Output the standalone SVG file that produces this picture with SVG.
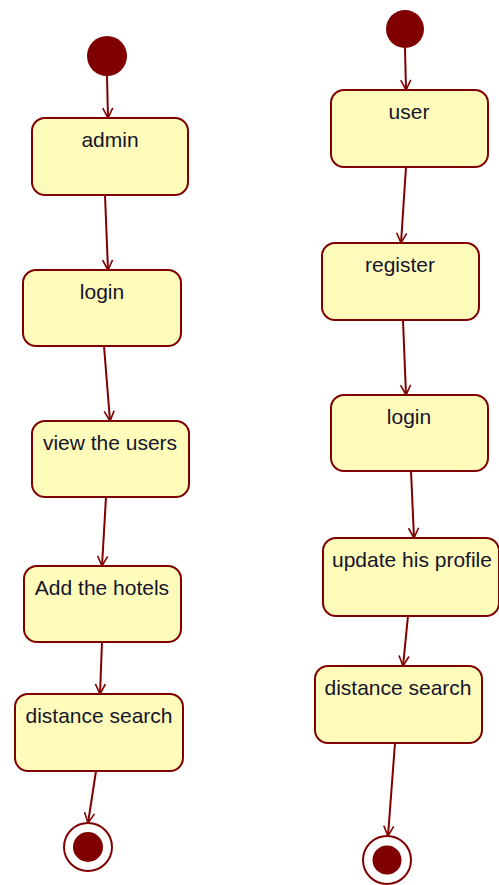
<svg xmlns="http://www.w3.org/2000/svg" width="499" height="885" viewBox="0 0 499 885">
  <style>
    .state rect { fill: #FFFCBB; stroke: #800000; stroke-width: 2; }
    .state text { font-family: "Liberation Sans", Arial, sans-serif; font-size: 21px; fill: #14142a; text-anchor: middle; }
    .start { fill: #800000; }
    .end-outer { fill: #ffffff; stroke: #800000; stroke-width: 2; }
    .end-inner { fill: #800000; }
    .edges path { fill: none; stroke: #800000; stroke-width: 2; marker-end: url(#open); }
  </style>
  <defs>
    <marker id="open" viewBox="0 0 12 12" refX="11" refY="6" markerWidth="12" markerHeight="12" markerUnits="userSpaceOnUse" orient="auto">
      <path d="M1,1 L11,6 L1,11" fill="none" stroke="#800000" stroke-width="1.6"/>
    </marker>
  </defs>

  <rect width="499" height="885" fill="#ffffff"/>

  <!-- admin flow -->
  <g id="admin-start"><circle class="start" cx="107" cy="56" r="20"/></g>
  <g id="admin" class="state"><rect x="32" y="118" width="156" height="77" rx="13"/><text x="110" y="147">admin</text></g>
  <g id="admin-login" class="state"><rect x="23" y="270" width="158" height="76" rx="13"/><text x="102" y="299">login</text></g>
  <g id="view-users" class="state"><rect x="32" y="421" width="157" height="76" rx="13"/><text x="110" y="450">view the users</text></g>
  <g id="add-hotels" class="state"><rect x="24" y="566" width="157" height="76" rx="13"/><text x="102" y="595">Add the hotels</text></g>
  <g id="admin-distance" class="state"><rect x="15" y="694" width="168" height="77" rx="13"/><text x="99" y="723">distance search</text></g>
  <g id="admin-end"><circle class="end-outer" cx="88" cy="847" r="24"/><circle class="end-inner" cx="88" cy="847" r="15"/></g>

  <!-- user flow -->
  <g id="user-start"><circle class="start" cx="405" cy="29" r="19"/></g>
  <g id="user" class="state"><rect x="331" y="90" width="157" height="77" rx="13"/><text x="409" y="119">user</text></g>
  <g id="register" class="state"><rect x="322" y="243" width="157" height="77" rx="13"/><text x="400" y="272">register</text></g>
  <g id="user-login" class="state"><rect x="331" y="395" width="157" height="76" rx="13"/><text x="409" y="424">login</text></g>
  <g id="update-profile" class="state"><rect x="323" y="538" width="176" height="78" rx="13"/><text x="412" y="567">update his profile</text></g>
  <g id="user-distance" class="state"><rect x="315" y="666" width="167" height="77" rx="13"/><text x="398" y="695">distance search</text></g>
  <g id="user-end"><circle class="end-outer" cx="387" cy="860" r="24"/><circle class="end-inner" cx="387" cy="860" r="14.5"/></g>

  <g id="connectors" class="edges">
    <path d="M107,76 L108,118"/>
    <path d="M105,195 L108,270"/>
    <path d="M104,346 L110,421"/>
    <path d="M106,497 L102,566"/>
    <path d="M102,642 L100,694"/>
    <path d="M96,771 L88,823"/>
    <path d="M405,48 L406,90"/>
    <path d="M406,167 L401,243"/>
    <path d="M403,320 L406,395"/>
    <path d="M411,471 L414,538"/>
    <path d="M408,616 L403,666"/>
    <path d="M395,743 L388,836"/>
  </g>
</svg>
